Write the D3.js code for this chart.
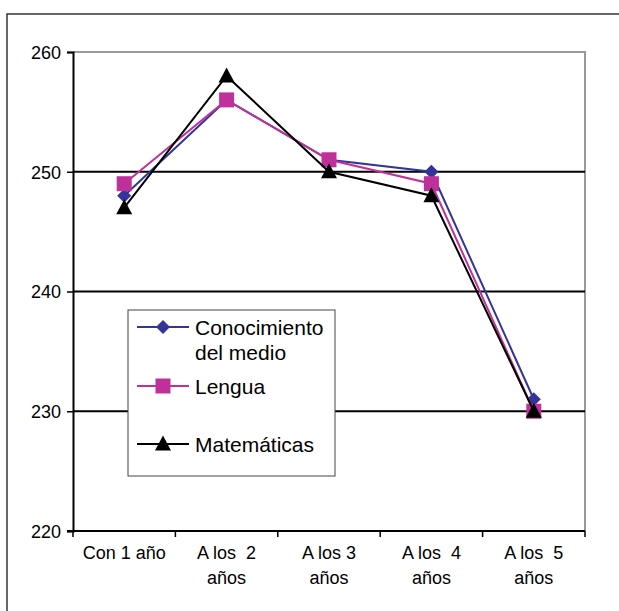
<!DOCTYPE html>
<html lang="es">
<head>
    <meta charset="UTF-8">
    <title>Puntuaciones por edad de inicio</title>
    <script src="https://cdn.jsdelivr.net/npm/d3@7"></script>
    <style>
        body{ margin:0; background:#fff; }
        svg text{ font-family: "Liberation Sans", Arial, sans-serif; fill:#000; }
    </style>
</head>
<body>
<svg width="619" height="611"></svg>
<script>
    var categorias = [["Con 1 año"], ["A los  2", "años"], ["A los 3", "años"], ["A los  4", "años"], ["A los  5", "años"]];
    var conocimiento = [248, 256, 251, 250, 231];
    var lengua = [249, 256, 251, 249, 230];
    var matematicas = [247, 258, 250, 248, 230];
    var ticksY = [220, 230, 240, 250, 260];

    var series = [
        {nombre: ["Conocimiento", "del medio"], valores: conocimiento, color: "#333399", marca: "diamond"},
        {nombre: ["Lengua"], valores: lengua, color: "#C0309A", marca: "square"},
        {nombre: ["Matemáticas"], valores: matematicas, color: "#000000", marca: "triangle"}
    ];

    var svg = d3.select("svg"),
        pLeft = 73, pRight = 585, pTop = 52, pBottom = 531;

    // marco exterior
    svg.append("path")
        .attr("d", "M7,620 V14 H625")
        .attr("fill", "none")
        .attr("stroke", "#333")
        .attr("stroke-width", 1.5);

    var x = d3.scaleBand().domain(d3.range(categorias.length)).range([pLeft, pRight]);
    var y = d3.scaleLinear().domain([220, 260]).range([pBottom, pTop]);

    // borde gris del area
    svg.append("path")
        .attr("d", "M" + pLeft + "," + pTop + " H" + pRight + " V" + pBottom)
        .attr("fill", "none")
        .attr("stroke", "#999")
        .attr("stroke-width", 2);

    // lineas de division
    svg.append("g").selectAll("line")
        .data(ticksY.filter(function (d) { return d > 220 && d < 260; }))
        .enter().append("line")
        .attr("x1", pLeft).attr("x2", pRight)
        .attr("y1", function (d) { return y(d); })
        .attr("y2", function (d) { return y(d); })
        .attr("stroke", "#000")
        .attr("stroke-width", 2);

    // eje Y
    var ejeY = svg.append("g")
        .attr("transform", "translate(" + pLeft + ",0)")
        .call(d3.axisLeft(y).tickValues(ticksY).tickSize(6).tickPadding(6));
    ejeY.select(".domain").attr("stroke", "#000").attr("stroke-width", 2);
    ejeY.selectAll(".tick line").attr("stroke", "#000").attr("stroke-width", 1.5);
    ejeY.selectAll("text").style("font-size", "18px").attr("dy", "0.36em");

    // eje X
    var ejeX = svg.append("g")
        .attr("transform", "translate(0," + pBottom + ")");
    ejeX.append("line")
        .attr("x1", pLeft - 6).attr("x2", pRight)
        .attr("stroke", "#000").attr("stroke-width", 2);
    ejeX.selectAll(".tk")
        .data(d3.range(categorias.length + 1))
        .enter().append("line")
        .attr("x1", function (i) { return pLeft + i * x.bandwidth(); })
        .attr("x2", function (i) { return pLeft + i * x.bandwidth(); })
        .attr("y1", 0).attr("y2", 6)
        .attr("stroke", "#000").attr("stroke-width", 1.5);
    ejeX.selectAll(".lbl")
        .data(categorias)
        .enter().append("text")
        .attr("text-anchor", "middle")
        .style("font-size", "18px")
        .style("white-space", "pre")
        .attr("transform", function (d, i) { return "translate(" + (x(i) + x.bandwidth() / 2) + ",28)"; })
        .selectAll("tspan")
        .data(function (d) { return d; })
        .enter().append("tspan")
        .attr("x", 0)
        .attr("y", function (d, j) { return j * 25; })
        .text(function (d) { return d; });

    function marca(g, tipo, color) {
        if (tipo === "diamond") {
            g.append("path").attr("d", "M0,-7 L7,0 L0,7 L-7,0 Z").attr("fill", color);
        } else if (tipo === "square") {
            g.append("rect").attr("x", -7.5).attr("y", -7.5).attr("width", 15).attr("height", 15).attr("fill", color);
        } else {
            g.append("path").attr("d", "M0,-8.5 L8,6.5 L-8,6.5 Z").attr("fill", color);
        }
    }

    var linea = d3.line()
        .x(function (d, i) { return x(i) + x.bandwidth() / 2; })
        .y(function (d) { return y(d); });

    series.forEach(function (s) {
        var g = svg.append("g");
        g.append("path")
            .attr("d", linea(s.valores))
            .attr("fill", "none")
            .attr("stroke", s.color)
            .attr("stroke-width", 2);
        s.valores.forEach(function (v, i) {
            var m = g.append("g").attr("transform", "translate(" + (x(i) + x.bandwidth() / 2) + "," + y(v) + ")");
            marca(m, s.marca, s.color);
        });
    });

    // leyenda
    var ley = svg.append("g").attr("transform", "translate(128,310)");
    ley.append("rect")
        .attr("width", 207).attr("height", 166)
        .attr("fill", "#fff").attr("stroke", "#444").attr("stroke-width", 1);
    var posLey = [17, 76, 134];
    series.forEach(function (s, k) {
        var g = ley.append("g").attr("transform", "translate(0," + posLey[k] + ")");
        g.append("line").attr("x1", 9).attr("x2", 61)
            .attr("stroke", s.color).attr("stroke-width", 2);
        var m = g.append("g").attr("transform", "translate(35,0)");
        marca(m, s.marca, s.color);
        g.append("text")
            .attr("x", 67).attr("y", 8)
            .style("font-size", "21px")
            .selectAll("tspan")
            .data(s.nombre)
            .enter().append("tspan")
            .attr("x", 67)
            .attr("dy", function (d, j) { return j === 0 ? 0 : 25; })
            .text(function (d) { return d; });
    });
</script>
</body>
</html>
